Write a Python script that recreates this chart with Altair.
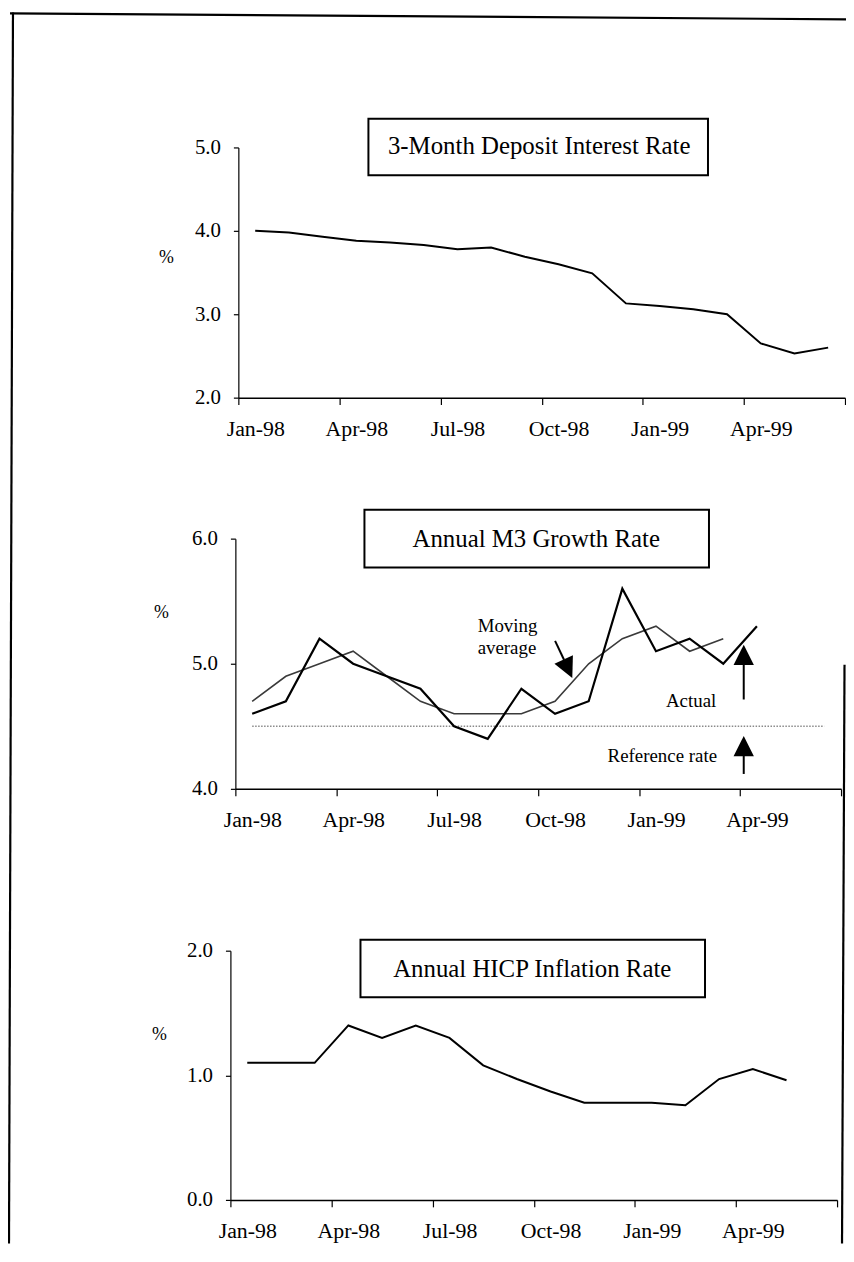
import json
import altair as alt
import pandas as pd

# ---------------- data ----------------
months = ["Jan-98", "Feb-98", "Mar-98", "Apr-98", "May-98", "Jun-98", "Jul-98", "Aug-98", "Sep-98",
          "Oct-98", "Nov-98", "Dec-98", "Jan-99", "Feb-99", "Mar-99", "Apr-99", "May-99", "Jun-99"]
tick_labels = ["Jan-98", "Apr-98", "Jul-98", "Oct-98", "Jan-99", "Apr-99", ""]
tick_months = [0, 3, 6, 9, 12, 15, 18]

deposit_rate = [4.00, 3.98, 3.93, 3.88, 3.86, 3.83, 3.78, 3.80, 3.69,
                3.60, 3.49, 3.13, 3.10, 3.06, 3.00, 2.65, 2.53, 2.60]
m3_actual = [4.6, 4.7, 5.2, 5.0, 4.9, 4.8, 4.5, 4.4, 4.8, 4.6, 4.7, 5.6, 5.1, 5.2, 5.0, 5.3]
m3_moving_average = [4.7, 4.9, 5.0, 5.1, 4.9, 4.7, 4.6, 4.6, 4.6, 4.7, 5.0, 5.2, 5.3, 5.1, 5.2]
m3_reference_rate = [4.5, 4.5, 4.5, 4.5, 4.5, 4.5, 4.5, 4.5, 4.5,
                     4.5, 4.5, 4.5, 4.5, 4.5, 4.5, 4.5, 4.5, 4.5]
hicp_inflation = [1.1, 1.1, 1.1, 1.4, 1.3, 1.4, 1.3, 1.08, 0.97, 0.87, 0.78, 0.78, 0.78, 0.76, 0.97, 1.05, 0.96]

panel_titles = ["3-Month Deposit Interest Rate", "Annual M3 Growth Rate", "Annual HICP Inflation Rate"]
deposit_ticks = [2.0, 3.0, 4.0, 5.0]
m3_ticks = [4.0, 5.0, 6.0]
hicp_ticks = [0.0, 1.0, 2.0]
m3_notes = ["Moving", "average", "Actual", "Reference rate"]
unit_label = "%"

# ---------------- styling / layout ----------------
FONT = "Liberation Serif"
W, H = 844, 1240
LABEL_EXPR = json.dumps(tick_labels) + "[round(datum.value / 3)]"


def frame(values):
    return pd.DataFrame({"month": months[:len(values)],
                         "m": list(range(len(values))),
                         "value": values})


def x_enc(x0, x1, axis_y):
    return alt.X("pos:Q",
                 scale=alt.Scale(domain=[0, 18], range=[x0, x1], nice=False, zero=False),
                 axis=alt.Axis(orient="bottom", offset=axis_y - H, values=tick_months,
                               labelExpr=LABEL_EXPR, labelOffset=17, labelFlush=False,
                               labelOverlap=False, tickSize=7, labelPadding=14, title=None,
                               grid=False, domainColor="black", tickColor="black",
                               labelColor="black", labelFont=FONT, labelFontSize=22,
                               domainWidth=1.5, tickWidth=1.2))


def y_enc(domain, y_bottom, y_top, axis_x, ticks, pct_x, pct_y):
    return alt.Y("value:Q",
                 scale=alt.Scale(domain=domain, range=[y_bottom, y_top], nice=False, zero=False),
                 axis=alt.Axis(orient="left", offset=-axis_x, values=ticks, format=".1f",
                               tickSize=5, labelPadding=13, grid=False,
                               domainColor="black", tickColor="black", labelColor="black",
                               labelFont=FONT, labelFontSize=21, domainWidth=1.2, tickWidth=1.2,
                               title=unit_label, titleAngle=0, titleX=pct_x - axis_x, titleY=pct_y,
                               titleFont=FONT, titleFontSize=18, titleFontWeight="normal",
                               titleAlign="center", titleBaseline="middle", titleColor="black"))


def line(values, xe, ye, **style):
    return (alt.Chart(frame(values))
            .transform_calculate(pos="datum.m + 0.5")
            .mark_line(**style)
            .encode(x=xe, y=ye))


def one():
    return pd.DataFrame({"k": [0]})


def note(text, x, y, size, align="center"):
    return (alt.Chart(pd.DataFrame({"label": [text]}))
            .mark_text(font=FONT, fontSize=size, align=align, baseline="middle", color="black")
            .encode(x=alt.value(x), y=alt.value(y), text="label:N"))


def box(x0, x1, y0, y1):
    return (alt.Chart(one())
            .mark_rect(fill="white", stroke="black", strokeWidth=2)
            .encode(x=alt.value(x0), x2=alt.value(x1), y=alt.value(y0), y2=alt.value(y1)))


def seg(x0, y0, x1, y1, w=2.0):
    return (alt.Chart(one())
            .mark_rule(color="black", strokeWidth=w)
            .encode(x=alt.value(x0), y=alt.value(y0), x2=alt.value(x1), y2=alt.value(y1)))


def head(x, y, angle=0):
    return (alt.Chart(one())
            .mark_point(shape="M0,-1L1,1L-1,1Z", filled=True, size=420, color="black",
                        opacity=1, angle=angle)
            .encode(x=alt.value(x), y=alt.value(y)))


# ---------------- panel 1 ----------------
x1e = x_enc(232, 843, 388)
y1e = y_enc([2, 5], 388, 136, 232, deposit_ticks, 159, 247)
panel1 = alt.layer(line(deposit_rate, x1e, y1e, color="black", strokeWidth=2))

# ---------------- panel 2 ----------------
x2e = x_enc(229, 839, 782)
y2e = y_enc([4, 6], 782, 530, 229, m3_ticks, 154, 604)
panel2 = alt.layer(
    line(m3_reference_rate, x2e, y2e, color="#8a8a8a", strokeWidth=1.5, strokeDash=[1.5, 1.5]),
    line(m3_moving_average, x2e, y2e, color="#3a3a3a", strokeWidth=1.6),
    line(m3_actual, x2e, y2e, color="black", strokeWidth=2.2),
)

# ---------------- panel 3 ----------------
x3e = x_enc(224, 835, 1196)
y3e = y_enc([0, 2], 1196, 945, 224, hicp_ticks, 152, 1029)
panel3 = alt.layer(line(hicp_inflation, x3e, y3e, color="black", strokeWidth=2))

# ---------------- annotations ----------------
annotations = [
    # scanned page frame
    seg(2, 1, 844, 7, 2.2),
    seg(5, 0, 1, 1240, 2.2),
    seg(842.5, 657, 840, 1240, 2.2),
    # title boxes
    box(363, 705, 107, 164), note(panel_titles[0], 535, 135, 25),
    box(359, 706, 501, 559), note(panel_titles[1], 532, 530, 25),
    box(355, 702, 934, 992), note(panel_titles[2], 528, 963, 25),
    # M3 notes and arrows
    note(m3_notes[0], 473, 618, 19, "left"),
    note(m3_notes[1], 473, 640, 19, "left"),
    seg(551, 633, 560, 652, 2), head(564, 661, 155),
    note(m3_notes[2], 688, 694, 19),
    seg(741, 654, 741, 692, 2), head(741, 647),
    note(m3_notes[3], 659, 749, 19),
    seg(741, 746, 741, 767, 2), head(741, 739),
]

chart = (alt.layer(panel1, panel2, panel3, *annotations)
         .resolve_scale(x="independent", y="independent")
         .properties(width=W, height=H, autosize=alt.AutoSizeParams(type="none"), padding=0)
         .configure(font=FONT)
         .configure_view(strokeWidth=0))

chart.save("out.html", embed_options={"renderer": "svg", "actions": False})
